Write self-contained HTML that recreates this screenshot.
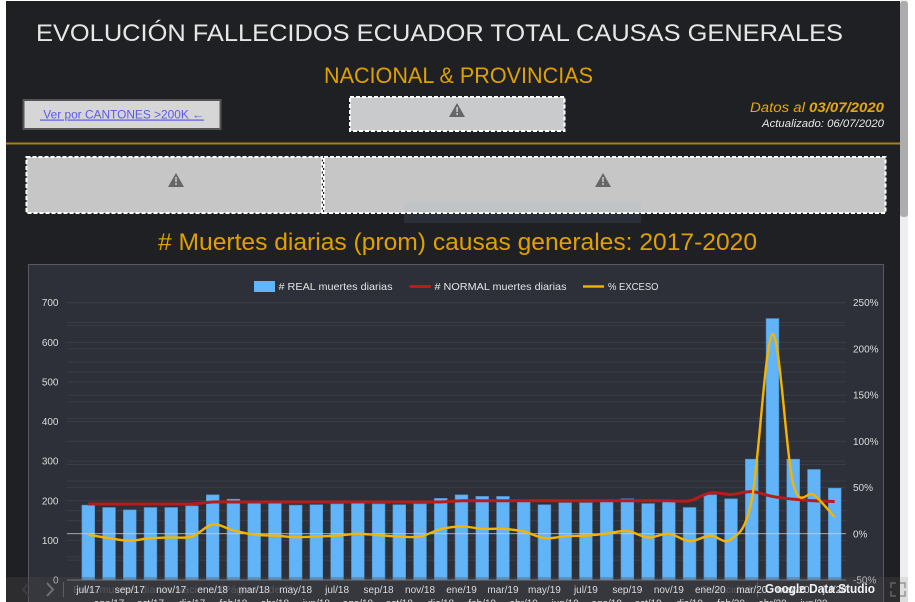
<!DOCTYPE html>
<html lang="es">
<head>
<meta charset="utf-8">
<title>Evolución fallecidos Ecuador</title>
<style>
html,body{margin:0;padding:0;background:#fff;width:915px;height:602px;overflow:hidden}
svg{display:block;font-family:"Liberation Sans",sans-serif}
</style>
</head>
<body>
<svg id="page" xmlns="http://www.w3.org/2000/svg" width="915" height="602" viewBox="0 0 915 602">
  <rect x="6" y="1" width="894" height="601" fill="#1f2024"/>
  <rect x="900" y="0" width="8" height="602" fill="#eeeeee"/>
  <rect x="900" y="1" width="8" height="216" rx="3" fill="#adadad"/>

  <text x="36" y="41" font-size="24.5" fill="#e6e6e6" textLength="807" lengthAdjust="spacingAndGlyphs">EVOLUCIÓN FALLECIDOS ECUADOR TOTAL CAUSAS GENERALES</text>
  <text x="324" y="83" font-size="22" fill="#dfa000" textLength="269" lengthAdjust="spacingAndGlyphs">NACIONAL &amp; PROVINCIAS</text>

  <g>
    <rect x="23.5" y="100" width="197" height="29" fill="#d6d6d6" stroke="#555555" stroke-width="2"/>
    <text x="40" y="118.5" font-size="12" fill="#5b5be8" text-decoration="underline" textLength="164" lengthAdjust="spacingAndGlyphs">&#160;Ver por CANTONES &gt;200K ←</text>
  </g>

  <g>
    <rect x="350" y="97" width="214.500" height="34" fill="#c8cacb" stroke="#ffffff" stroke-width="2" stroke-dasharray="4 2"/>
    <path d="M457 103l8 14h-16z" fill="#666666"/>
    <rect x="456.3" y="107" width="1.6" height="5" fill="#c8cacb"/><rect x="456.3" y="113" width="1.6" height="2" fill="#c8cacb"/>
  </g>

  <text x="884" y="112" font-size="13.5" font-style="italic" fill="#e6a90a" text-anchor="end" textLength="134" lengthAdjust="spacingAndGlyphs">Datos al <tspan font-weight="bold">03/07/2020</tspan></text>
  <text x="884" y="127" font-size="11" font-style="italic" fill="#e8e8e8" text-anchor="end" textLength="122" lengthAdjust="spacingAndGlyphs">Actualizado: 06/07/2020</text>

  <rect x="6" y="142.5" width="894" height="2" fill="#a9820f"/>

  <rect x="404" y="202" width="237" height="21" fill="#2a2f38"/>

  <g>
    <rect x="26.500" y="157" width="295.500" height="56" fill="#c6c6c6" stroke="#ffffff" stroke-width="2" stroke-dasharray="4 2"/>
    <path d="M176 173l8 14h-16z" fill="#666666"/>
    <rect x="175.2" y="177" width="1.6" height="5" fill="#c6c6c6"/><rect x="175.2" y="183" width="1.6" height="2" fill="#c6c6c6"/>
  </g>
  <g>
    <rect x="324" y="157" width="561.500" height="56" fill="#c6c6c6" stroke="#ffffff" stroke-width="2" stroke-dasharray="4 2"/>
    <path d="M603 173l8 14h-16z" fill="#666666"/>
    <rect x="602.2" y="177" width="1.6" height="5" fill="#c6c6c6"/><rect x="602.2" y="183" width="1.6" height="2" fill="#c6c6c6"/>
  </g>
  <rect x="404" y="202" width="237" height="10" fill="#7fa4d0" fill-opacity="0.07"/>

  <text x="158" y="250" font-size="24" fill="#dfa000" textLength="599" lengthAdjust="spacingAndGlyphs"># Muertes diarias (prom) causas generales: 2017-2020</text>

  <rect x="28.5" y="264.5" width="855" height="338" fill="#2d3039" stroke="#575a5f" stroke-width="1"/>

  <g>
    <g>
      <rect x="254" y="281" width="21" height="11" fill="#62b4f9"/>
      <text x="278.5" y="290" font-size="10.5" fill="#e4e4e4" textLength="114" lengthAdjust="spacingAndGlyphs"># REAL muertes diarias</text>
    </g>
    <g>
      <rect x="409.5" y="285" width="21.5" height="3" fill="#b71c1c"/>
      <text x="434.5" y="290" font-size="10.5" fill="#e4e4e4" textLength="132" lengthAdjust="spacingAndGlyphs"># NORMAL muertes diarias</text>
    </g>
    <g>
      <rect x="583" y="285.3" width="21" height="2.4" fill="#f4b400"/>
      <text x="608" y="290" font-size="10.5" fill="#e4e4e4" textLength="50.5" lengthAdjust="spacingAndGlyphs">% EXCESO</text>
    </g>
  </g>

  <g id="grid"></g>
  <g id="bars"></g>
  <g id="zero"></g>
  <g id="lines"></g>
  <g id="yLeft"></g>
  <g id="yRight"></g>

  <g>
    <rect x="6" y="577" width="894" height="25" fill="#4a4a4a" fill-opacity="0.32"/>
    <rect x="900" y="577" width="8" height="25" fill="#dddddd"/>
    <path d="M29 583l-6 6.500 6 6.500" fill="none" stroke="#3c3e42" stroke-width="2"/>
    <path d="M47 583l6 6.500-6 6.500" fill="none" stroke="#6f7175" stroke-width="2"/>
    <rect x="63" y="582" width="1" height="15" fill="#5c5e62"/>
    <text x="73" y="593" font-size="10.5" fill="#ffffff" fill-opacity="0.16" textLength="220" lengthAdjust="spacingAndGlyphs">Evol. muertes diarias Nacional (Página 1 de 2)</text>
    <text x="702" y="593" font-size="10.5" fill="#ffffff" fill-opacity="0.16">Privacidad</text>
    <rect x="757" y="582" width="1" height="15" fill="#5c5e62"/>
    <path d="M891 588v-5h5M900 583h5v5M905 591v5h-5M896 596h-5v-5" fill="none" stroke="#77787a" stroke-opacity="0.7" stroke-width="1.500"/>
  </g>
  <g id="xLabels"></g>
  <text x="765" y="593" font-size="13" font-weight="bold" fill="#f2f2f2" textLength="110" lengthAdjust="spacingAndGlyphs">Google Data Studio</text>
</svg>

<script>
const months = ["jul/17","ago/17","sep/17","oct/17","nov/17","dic/17","ene/18","feb/18","mar/18","abr/18","may/18","jun/18","jul/18","ago/18","sep/18","oct/18","nov/18","dic/18","ene/19","feb/19","mar/19","abr/19","may/19","jun/19","jul/19","ago/19","sep/19","oct/19","nov/19","dic/19","ene/20","feb/20","mar/20","abr/20","may/20","jun/20","jul/20"];
const realDeaths = [189,183,177,183,183,187,215,204,194,194,189,190,192,194,192,190,192,206,215,211,211,198,190,195,195,198,205,193,198,183,215,205,305,660,305,279,232];
const normalDeaths = [192,192,192,192,192,192,197,197,197,197,197,197,197,197,197,197,197,197,200,200,200,200,200,200,200,200,200,200,200,200,220,216,223,211,204,200,198];
const excessPct = [-1,-4.7,-7.5,-4.7,-4,-3,10,3.600,-1,-2,-3.600,-3,-2,0,-1.500,-3,-3,5,8,5.400,5.400,2.500,-4.700,-2.700,-2,0.300,3,-4,0,-8,-2,-6,37,216,54,42,18];
const leftTicks = [0,100,200,300,400,500,600,700];
const leftMinorTicks = [50,150,250,350,450,550,650];
const rightTicks = [-50,0,50,100,150,200,250];
const rightMinorTicks = [-25,25,75,125,175,225];

const NS = "http://www.w3.org/2000/svg";
function mk(tag, parent, attrs) {
  const el = document.createElementNS(NS, tag);
  for (const k in attrs) el.setAttribute(k, attrs[k]);
  parent.appendChild(el);
  return el;
}
const PLOT_LEFT = 67, PLOT_RIGHT = 846, PLOT_TOP = 302.7, PLOT_BOTTOM = 580;
function xBand(i) { return 88.3 + i * (834.7 - 88.3) / (months.length - 1); }
function yLeftScale(v) { return PLOT_BOTTOM - (v / 700) * (PLOT_BOTTOM - PLOT_TOP); }
function yRightScale(v) { return PLOT_BOTTOM - ((v + 50) / 300) * (PLOT_BOTTOM - PLOT_TOP); }
function smoothPath(pts) {
  let d = "M" + pts[0][0] + " " + pts[0][1];
  for (let i = 0; i < pts.length - 1; i++) {
    const p0 = pts[Math.max(0, i - 1)], p1 = pts[i], p2 = pts[i + 1], p3 = pts[Math.min(pts.length - 1, i + 2)];
    const c1x = p1[0] + (p2[0] - p0[0]) / 6, c1y = p1[1] + (p2[1] - p0[1]) / 6;
    const c2x = p2[0] - (p3[0] - p1[0]) / 6, c2y = p2[1] - (p3[1] - p1[1]) / 6;
    d += "C" + c1x + " " + c1y + " " + c2x + " " + c2y + " " + p2[0] + " " + p2[1];
  }
  return d;
}

const grid = document.getElementById("grid");
leftMinorTicks.concat(leftTicks).forEach(function (t) {
  const y = yLeftScale(t);
  const line = mk("line", grid, {x1: PLOT_LEFT, x2: PLOT_RIGHT, y1: y, y2: y, stroke: "#3a3d45", "stroke-width": 1});
  
  
});
rightMinorTicks.concat(rightTicks).forEach(function (t) {
  if (t === 0 || t === -50) return;
  const y = yRightScale(t);
  const line = mk("line", grid, {x1: PLOT_LEFT, x2: PLOT_RIGHT, y1: y, y2: y, stroke: "#3a3d45", "stroke-width": 1});
  
  
});

const barsG = document.getElementById("bars");
realDeaths.forEach(function (v, i) {
  const y = yLeftScale(v);
  const bar = mk("rect", barsG, {x: xBand(i) - 6.4, y: y, width: 12.8, height: PLOT_BOTTOM - y, fill: "#62b4f9", stroke: "#4f8fc6", "stroke-width": 0.6});
  
  
});

const zeroG = document.getElementById("zero");
const zeroLine = mk("line", zeroG, {x1: PLOT_LEFT, x2: PLOT_RIGHT, y1: yRightScale(0), y2: yRightScale(0), stroke: "#d0d2d6", "stroke-width": 0.8});


const baseLine = mk("line", zeroG, {x1: PLOT_LEFT, x2: PLOT_RIGHT, y1: PLOT_BOTTOM, y2: PLOT_BOTTOM, stroke: "#8a8c90", "stroke-width": 1});



const linesG = document.getElementById("lines");
const normalLine = mk("path", linesG, {d: smoothPath(normalDeaths.map(function (v, i) { return [xBand(i), yLeftScale(v)]; })), fill: "none", stroke: "#b71c1c", "stroke-width": 3});


const excessLine = mk("path", linesG, {d: smoothPath(excessPct.map(function (v, i) { return [xBand(i), yRightScale(v)]; })), fill: "none", stroke: "#f4b400", "stroke-width": 2.4});



const yLeftG = document.getElementById("yLeft");
leftTicks.forEach(function (t) {
  const label = mk("text", yLeftG, {x: 58.5, y: yLeftScale(t) + 3.5, "font-size": 10, fill: "#dcdcdc", "text-anchor": "end"});
  
  
  label.textContent = t;
});
const yRightG = document.getElementById("yRight");
rightTicks.forEach(function (t) {
  const label = mk("text", yRightG, {x: 853, y: yRightScale(t) + 3.5, "font-size": 10, fill: "#dcdcdc"});
  
  
  label.textContent = t + "%";
});
const xG = document.getElementById("xLabels");
months.forEach(function (m, i) {
  const label = mk("text", xG, {x: xBand(i), y: i % 2 === 0 ? 593 : 606.5, "font-size": 10, fill: "#dcdcdc", "text-anchor": "middle"});
  
  
  label.textContent = m;
});
</script>
</body>
</html>
